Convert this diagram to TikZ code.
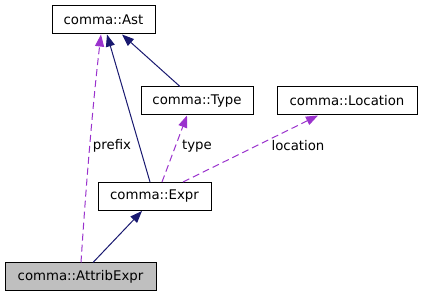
\documentclass[tikz,border=0pt]{standalone}
\usepackage{fontspec}
\setmainfont{DejaVu Sans}
\usepackage{tikz}
\usetikzlibrary{arrows.meta,positioning}
\definecolor{dnavy}{HTML}{191970}
\definecolor{dpurple}{HTML}{9A32CD}
\definecolor{dgray}{HTML}{BFBFBF}

\begin{document}
\begin{tikzpicture}[x=1pt,y=1pt,font=\fontsize{13.3}{16}\selectfont,
  cls/.style={rectangle,draw=black,line width=1pt,minimum height=28pt,inner sep=0pt,fill=white},
  cur/.style={cls,fill=dgray},
  inh/.style={-{Triangle[length=12pt,width=9pt]},line width=1pt,dnavy},
  use/.style={-{Triangle[length=12pt,width=9pt]},line width=1pt,dpurple,dash pattern=on 7pt off 4pt},
  lbl/.style={inner sep=1pt}]
\useasboundingbox (0,0) rectangle (421,-296);
% --- classes ---
\node[cls,minimum width=103pt] (ast) at (103.5,-20) {comma::Ast};
\node[cls,minimum width=112pt] (type) at (197,-101) {comma::Type};
\node[cls,minimum width=140pt] (loc) at (347,-101) {comma::Location};
\node[cls,minimum width=113pt] (expr) at (154.5,-196.5) {comma::Expr};
\node[cur,minimum width=151pt] (attr) at (80.5,-277) {comma::AttribExpr};
% --- inheritance ---
\draw[inh] ([xshift=-17pt]type.north) -- ([xshift=18.5pt]ast.south);
\draw[inh] ([xshift=-4.5pt]expr.north) -- ([xshift=3.5pt]ast.south);
\draw[inh] ([xshift=12.5pt]attr.north) -- ([xshift=-12.5pt]expr.south);
% --- usage ---
\draw[use] ([xshift=0.5pt]attr.north) .. controls (85,-200) and (92,-110) .. ([xshift=-2.5pt]ast.south);
\draw[use] ([xshift=7.5pt]expr.north) -- ([xshift=-10pt]type.south);
\draw[use] ([xshift=28.5pt]expr.north) -- ([xshift=-29pt]loc.south);
\node[lbl] (lprefix) at (112,-146) {prefix};
\node[lbl] (ltype) at (197,-146) {type};
\node[lbl] (lloc) at (298,-146) {location};
\end{tikzpicture}
\end{document}
